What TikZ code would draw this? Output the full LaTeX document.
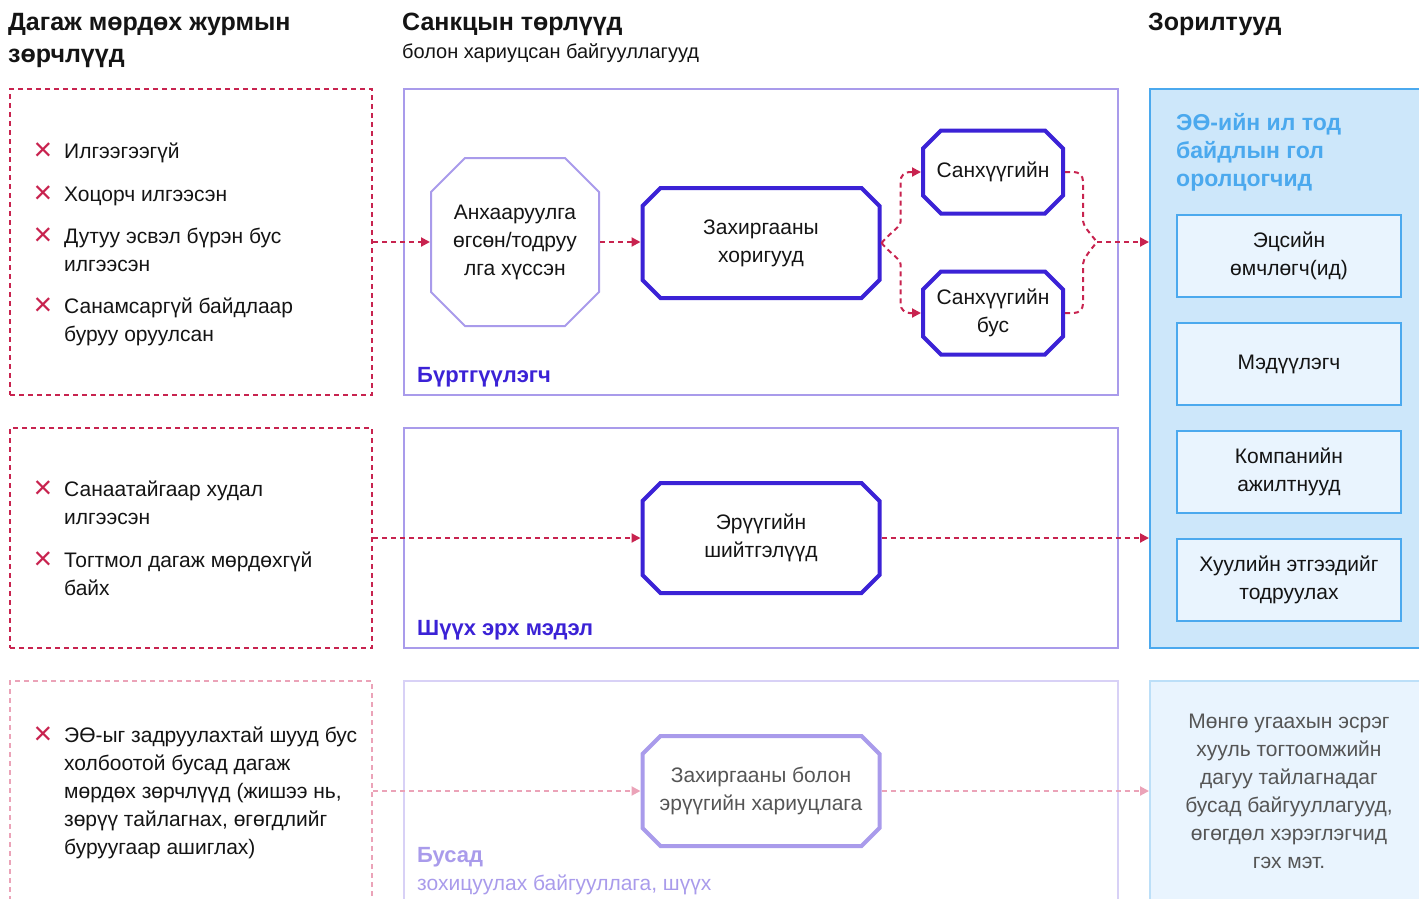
\documentclass[tikz,border=0pt]{standalone}
\usepackage{fontspec}
\setmainfont{Liberation Sans}
\usetikzlibrary{arrows.meta,positioning,shapes.misc}
\definecolor{Ink}{HTML}{141414}
\definecolor{Grey}{HTML}{555555}
\definecolor{Crimson}{HTML}{C8234F}
\definecolor{CrimsonFade}{HTML}{EBA3B8}
\definecolor{Lilac}{HTML}{A99BEB}
\definecolor{LilacFade}{HTML}{D8D1F6}
\definecolor{Indigo}{HTML}{3B22D6}
\definecolor{SkyLine}{HTML}{4BA9EE}
\definecolor{SkyLineFade}{HTML}{BCDFF8}
\definecolor{SkyFill}{HTML}{CDE7FA}
\definecolor{SkyPale}{HTML}{E9F4FE}

\begin{document}
\begin{tikzpicture}[x=1pt,y=-1pt,
  txt/.style={font=\fontsize{21}{28}\selectfont,text=Ink,inner sep=0pt},
  hdr/.style={font=\bfseries\fontsize{25}{32}\selectfont,text=Ink,inner sep=0pt,anchor=base west,align=left},
  item/.style={txt,anchor=base west,align=left},
  xmark/.style={text=Crimson,font=\fontsize{32}{32}\selectfont,inner sep=0pt,anchor=base},
  viol/.style={draw=Crimson,line width=2pt,dash pattern=on 5pt off 4pt,anchor=north west,minimum width=362pt,inner sep=0pt},
  grp/.style={draw=Lilac,line width=2pt,anchor=north west,minimum width=714pt,inner sep=0pt},
  oct/.style={chamfered rectangle,chamfered rectangle xsep=9pt,chamfered rectangle ysep=9pt,draw=Indigo,line width=4pt,txt,align=center,minimum width=237pt,minimum height=110pt},
  flow/.style={draw=Crimson,line width=2pt,dash pattern=on 5pt off 4pt,-{Triangle[length=9pt,width=9pt]}},
  role/.style={draw=SkyLine,fill=SkyPale,line width=2pt,txt,align=center,minimum width=224pt,minimum height=82pt},
  lbl/.style={font=\bfseries\fontsize{22}{28}\selectfont,text=Indigo,anchor=base west,inner sep=0pt}]
\useasboundingbox (0,0) rectangle (1419,898);
\clip (0,0) rectangle (1419,898);

% headings (base anchor = last line)
\node[hdr] (h1) at (8,62) {Дагаж мөрдөх журмын\\зөрчлүүд};
\node[hdr] (h2) at (402,30) {Санкцын төрлүүд};
\node[txt,anchor=base west,font=\fontsize{20}{24}\selectfont] (h2s) at (402,58) {болон хариуцсан байгууллагууд};
\node[hdr] (h3) at (1148,30) {Зорилтууд};

% violations
\node[viol,minimum height=306pt] (v1) at (9,88) {};
\node[viol,minimum height=220pt] (v2) at (9,427) {};
\node[viol,draw=CrimsonFade,minimum height=240pt] (v3) at (9,680) {};

\node[item] (i1) at (64,158) {Илгээгээгүй};
\node[item] (i2) at (64,201) {Хоцорч илгээсэн};
\node[item] (i3) at (64,271) {Дутуу эсвэл бүрэн бус\\илгээсэн};
\node[item] (i4) at (64,341) {Санамсаргүй байдлаар\\буруу оруулсан};
\node[item] (i5) at (64,524) {Санаатайгаар худал\\илгээсэн};
\node[item] (i6) at (64,595) {Тогтмол дагаж мөрдөхгүй\\байх};
\node[item] (i7) at (64,854) {ЭӨ-ыг задруулахтай шууд бус\\холбоотой бусад дагаж\\мөрдөх зөрчлүүд (жишээ нь,\\зөрүү тайлагнах, өгөгдлийг\\буруугаар ашиглах)};
\node[xmark] (x1) at (43,160) {×};
\node[xmark] (x2) at (43,203) {×};
\node[xmark] (x3) at (43,245) {×};
\node[xmark] (x4) at (43,315) {×};
\node[xmark] (x5) at (43,498) {×};
\node[xmark] (x6) at (43,569) {×};
\node[xmark] (x7) at (43,744) {×};

% sanction groups
\node[grp,minimum height=306pt] (g1) at (403,88) {};
\node[grp,minimum height=220pt] (g2) at (403,427) {};
\node[grp,draw=LilacFade,minimum height=240pt] (g3) at (403,680) {};
\node[lbl] (l1) at (417,382) {Бүртгүүлэгч};
\node[lbl] (l2) at (417,635) {Шүүх эрх мэдэл};
\node[lbl,text=Lilac] (l3) at (417,862) {Бусад};
\node[txt,anchor=base west,text=Lilac] (l3s) at (417,890) {зохицуулах байгууллага, шүүх};

\node[oct,draw=Lilac,line width=2pt,minimum width=168pt,minimum height=168pt,chamfered rectangle xsep=17pt,chamfered rectangle ysep=17pt] (warn) at (515,242) {Анхааруулга\\өгсөн/тодруу\\лга хүссэн};
\node[oct] (admin) at (761,243) {Захиргааны\\хоригууд};
\node[oct,minimum width=140pt,minimum height=83pt] (fin) at (993,172) {Санхүүгийн};
\node[oct,minimum width=140pt,minimum height=83pt] (nonfin) at (993,313) {Санхүүгийн\\бус};
\node[oct] (crim) at (761,538) {Эрүүгийн\\шийтгэлүүд};
\node[oct,draw=Lilac,text=Grey] (other) at (761,791) {Захиргааны болон\\эрүүгийн хариуцлага};

% goals
\node[draw=SkyLine,fill=SkyFill,line width=2pt,anchor=north west,minimum width=290pt,minimum height=559pt,inner sep=0pt] (goals) at (1149,88) {};
\node[font=\bfseries\fontsize{23}{28}\selectfont,text=SkyLine,anchor=base west,align=left,inner sep=0pt] (gt) at (1176,186) {ЭӨ-ийн ил тод\\байдлын гол\\оролцогчид};
\node[role] (owner) at (1289,256) {Эцсийн\\өмчлөгч(ид)};
\node[role] (filer) at (1289,364) {Мэдүүлэгч};
\node[role] (staff) at (1289,472) {Компанийн\\ажилтнууд};
\node[role] (entity) at (1289,580) {Хуулийн этгээдийг\\тодруулах};
\node[draw=SkyLineFade,fill=SkyPale,line width=2pt,anchor=north west,minimum width=290pt,minimum height=240pt,inner sep=0pt] (rest) at (1149,680) {};
\node[txt,text=Grey,align=center] (rt) at (1289,791) {Мөнгө угаахын эсрэг\\хууль тогтоомжийн\\дагуу тайлагнадаг\\бусад байгууллагууд,\\өгөгдөл хэрэглэгчид\\гэх мэт.};

% flows
\coordinate (join) at (1097,242);
\draw[flow] (v1.east) -- (warn.west);
\draw[flow] (warn.east) -- (warn.east -| admin.west);
\draw[flow,rounded corners=9pt] (admin.east) to[out=50,in=-90] ++(19,-30) |- (fin.west);
\draw[flow,rounded corners=9pt] (admin.east) to[out=-50,in=90] ++(19,30) |- (nonfin.west);
\draw[flow,-,rounded corners=9pt] (fin.east) -- ++(18,0) -- ++(0,40) to[out=-90,in=130] (join);
\draw[flow,-,rounded corners=9pt] (nonfin.east) -- ++(18,0) -- ++(0,-40) to[out=90,in=-130] (join);
\draw[flow] (join) -- (join -| goals.west);
\draw[flow] (v2.east) -- (crim.west);
\draw[flow] (crim.east) -- (crim.east -| goals.west);
\draw[flow,draw=CrimsonFade] (other.west -| v3.east) -- (other.west);
\draw[flow,draw=CrimsonFade] (other.east) -- (other.east -| rest.west);
\end{tikzpicture}
\end{document}
